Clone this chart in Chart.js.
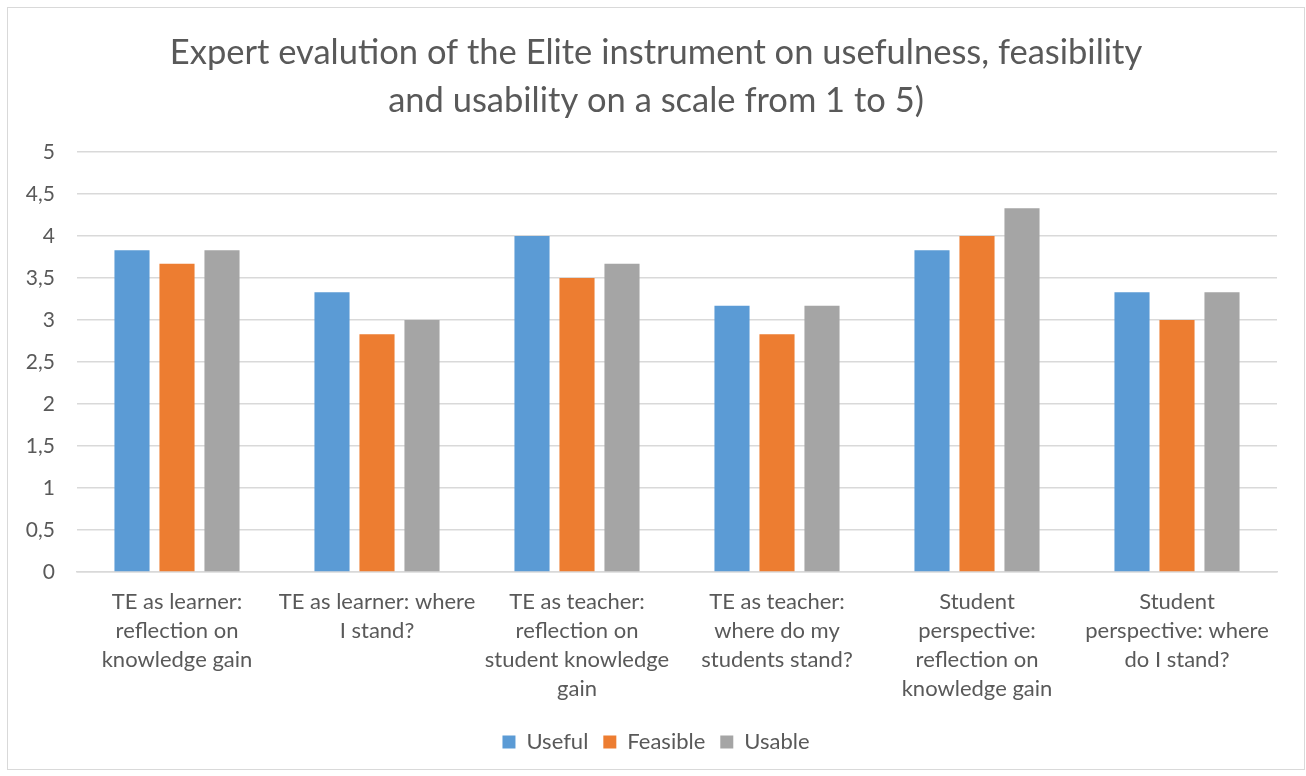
<!DOCTYPE html>
<html>
<head>
<meta charset="utf-8">
<script src="https://cdn.jsdelivr.net/npm/chart.js@4"></script>
<style>
  html, body { margin: 0; padding: 0; background: #fff; }
  #box {
    position: absolute; left: 7px; top: 7px; width: 1298px; height: 763px;
    border: 1px solid #d9d9d9; box-sizing: border-box; background: #fff;
  }
  #chart { display: block; }
</style>
</head>
<body>
<div id="box"><canvas id="chart" width="1296" height="761"></canvas></div>
<script>
const titleLines = [
  'Expert evalution of the Elite instrument on usefulness, feasibility',
  'and usability on a scale from 1 to 5)'
];
const categories = [
  ['TE as learner:', 'reflection on', 'knowledge gain'],
  ['TE as learner: where', 'I stand?'],
  ['TE as teacher:', 'reflection on', 'student knowledge', 'gain'],
  ['TE as teacher:', 'where do my', 'students stand?'],
  ['Student', 'perspective:', 'reflection on', 'knowledge gain'],
  ['Student', 'perspective: where', 'do I stand?']
];
const useful   = [3.83, 3.33, 4.00, 3.17, 3.83, 3.33];
const feasible = [3.67, 2.83, 3.50, 2.83, 4.00, 3.00];
const usable   = [3.83, 3.00, 3.67, 3.17, 4.33, 3.33];

const font = 'Lato, "Open Sans", sans-serif';
const grey = '#595959';
Chart.defaults.font.family = font;
Chart.defaults.color = grey;

new Chart(document.getElementById('chart'), {
  type: 'bar',
  data: {
    labels: categories,
    datasets: [
      { label: 'Useful',   data: useful,   backgroundColor: '#5b9bd5' },
      { label: 'Feasible', data: feasible, backgroundColor: '#ed7d31' },
      { label: 'Usable',   data: usable,   backgroundColor: '#a5a5a5' }
    ]
  },
  options: {
    responsive: false,
    animation: false,
    categoryPercentage: 0.675,
    barPercentage: 0.78,
    layout: { padding: { left: 0, right: 0, top: 0, bottom: 6 } },
    plugins: {
      title: {
        display: true,
        text: titleLines,
        color: grey,
        font: { size: 34.5, weight: 'normal', lineHeight: 1.39 },
        padding: { top: 21, bottom: 27 }
      },
      legend: {
        position: 'bottom',
        labels: {
          color: grey,
          font: { size: 22 },
          boxWidth: 13, boxHeight: 13,
          padding: 15
        }
      },
      tooltip: { enabled: false }
    },
    scales: {
      x: {
        grid: { display: false, drawTicks: false },
        border: { color: '#d9d9d9', width: 1.5 },
        ticks: { color: grey, font: { size: 22, lineHeight: 1.32 }, padding: 15, maxRotation: 0, autoSkip: false },
        afterFit: s => { s.height = 144; }
      },
      y: {
        min: 0, max: 5,
        grid: { color: '#d9d9d9', lineWidth: 1.5, drawTicks: false },
        border: { display: false },
        ticks: {
          stepSize: 0.5, color: grey, font: { size: 21 }, padding: 22,
          callback: v => String(v).replace('.', ',')
        },
        afterFit: s => { s.width = 69; }
      },
      // empty right axis, only to keep the right margin while the title stays centred
      yRight: {
        position: 'right',
        min: 0, max: 5,
        grid: { display: false, drawTicks: false },
        border: { display: false },
        ticks: { display: false },
        afterFit: s => { s.width = 27; }
      }
    }
  }
});
</script>
</body>
</html>
